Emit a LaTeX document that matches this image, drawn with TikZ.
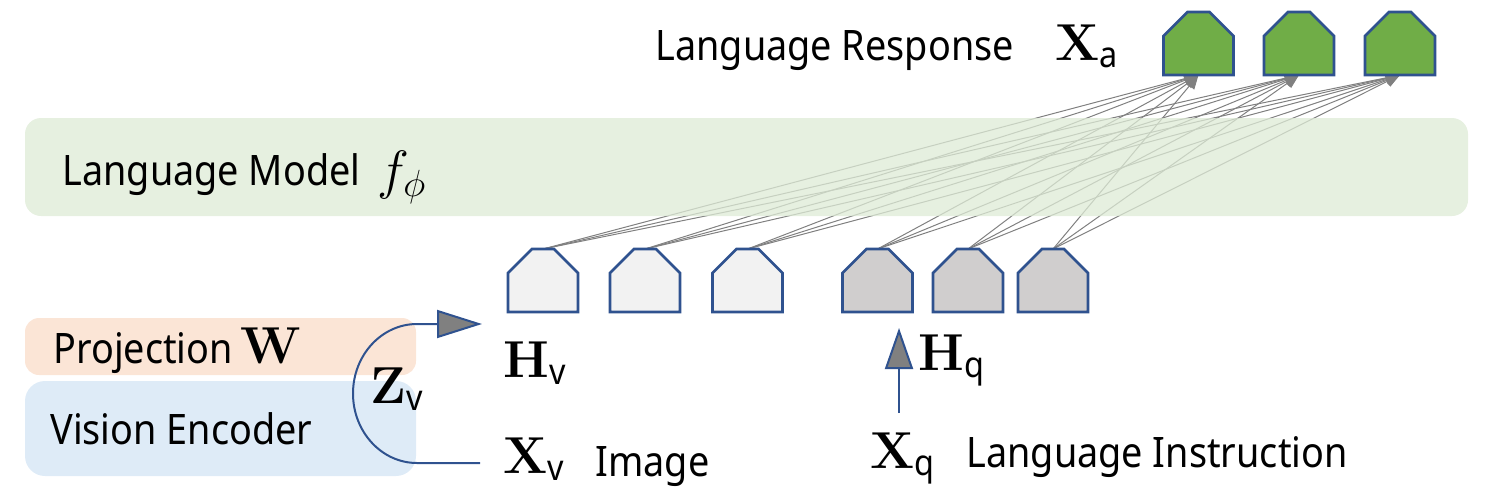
\RequirePackage{fix-cm}
\documentclass[tikz,border=0pt]{standalone}
\usepackage[no-math]{fontspec}
\setmainfont{Noto Sans}[FakeStretch=0.9]
\usetikzlibrary{arrows.meta}
\definecolor{bord}{RGB}{47,82,143}
\definecolor{tokw}{RGB}{242,242,242}
\definecolor{tokg}{RGB}{208,206,206}
\definecolor{tokgreen}{RGB}{112,173,71}
\definecolor{lmband}{RGB}{222,235,214}
\definecolor{projc}{RGB}{251,229,214}
\definecolor{visc}{RGB}{222,235,247}
\definecolor{fang}{RGB}{128,128,128}
\newcommand\sbs[1]{\mbox{\fontsize{18}{18}\selectfont #1}}
\newcommand\tokshape[3]{%
  \filldraw[tokstyle, fill=#3] (#1-35,#2+63) -- (#1-35,#2+24) -- (#1-11,#2) -- (#1+11,#2) -- (#1+35,#2+24) -- (#1+35,#2+63) -- cycle;}
\tikzset{
  tokstyle/.style={draw=bord, line width=1.3pt, line join=miter},
  fan/.style={draw=fang, line width=0.5pt, -{Triangle[length=7pt,width=6pt,fill=fang]}},
  txt/.style={inner sep=0pt, font=\fontsize{21}{25}\selectfont},
  mth/.style={inner sep=0pt, font=\fontsize{26}{30}\selectfont},
  bline/.style={draw=bord, line width=1pt},
}
\begin{document}
\begin{tikzpicture}[x=0.5pt,y=-0.5pt]
\useasboundingbox (0,0) rectangle (1502,498);
% coordinates for tokens
\coordinate (in1) at (543,249);
\coordinate (in2) at (645,249);
\coordinate (in3) at (747.5,249);
\coordinate (in4) at (877.5,249);
\coordinate (in5) at (968,249);
\coordinate (in6) at (1053,249);
\coordinate (out1) at (1198.5,75);
\coordinate (out2) at (1299,75);
\coordinate (out3) at (1400,75);
% fan connections
\foreach \i in {1,...,6}{
  \foreach \j in {1,2,3}{
    \draw[fan] (in\i) -- (out\j);
  }
}
% language model band
\fill[lmband, fill opacity=0.75, rounded corners=8pt] (25,118) rectangle (1468,216);
% projection and vision encoder
\fill[projc, rounded corners=7pt] (25,318) rectangle (416,375);
\fill[visc, rounded corners=10pt] (25,381) rectangle (416,476);
% tokens
\tokshape{543}{249}{tokw}
\tokshape{645}{249}{tokw}
\tokshape{747.5}{249}{tokw}
\tokshape{877.5}{249}{tokg}
\tokshape{968}{249}{tokg}
\tokshape{1053}{249}{tokg}
\tokshape{1198.5}{12}{tokgreen}
\tokshape{1299}{12}{tokgreen}
\tokshape{1400}{12}{tokgreen}
% texts
\node[txt, anchor=base west] (lr) at (655,60) {Language Response};
\node[mth, anchor=base west] (xa) at (1055,60) {$\mathbf{X}_{\sbs{a}}$};
\node[txt, anchor=base west] (lm) at (62,185) {Language Model};
\node[inner sep=0pt, anchor=base west, font=\fontsize{27}{32}\selectfont] (fphi) at (377,188) {$f_{\phi}$};
\node[txt, anchor=base west] (proj) at (53,363) {Projection};
\node[mth, anchor=base west] (w) at (240,363) {$\mathbf{W}$};
\node[txt, anchor=base west] (venc) at (50,444) {Vision Encoder};
\node[mth, anchor=base west] (zv) at (370,403) {$\mathbf{Z}_{\sbs{v}}$};
\node[mth, anchor=base west] (hv) at (503,377) {$\mathbf{H}_{\sbs{v}}$};
\node[mth, anchor=base west] (xv) at (503,473) {$\mathbf{X}_{\sbs{v}}$};
\node[txt, anchor=base west] (img) at (595,476) {Image};
\node[mth, anchor=base west] (hq) at (918,370) {$\mathbf{H}_{\sbs{q}}$};
\node[mth, anchor=base west] (xq) at (870,468) {$\mathbf{X}_{\sbs{q}}$};
\node[txt, anchor=base west] (linst) at (966,467) {Language Instruction};
% vision path
\coordinate (vstart) at (480,463);
\coordinate (vend) at (482,324);
\coordinate (qstart) at (899,413);
\coordinate (qend) at (899,328);
\draw[bline, -{Triangle[length=22.5pt,width=14pt,fill=fang]}] (vstart) -- (417,463) arc[start angle=270, end angle=90, x radius=32pt, y radius=34.75pt] -- (vend);
\draw[bline, -{Triangle[length=20.5pt,width=14pt,fill=fang]}] (qstart) -- (qend);
\end{tikzpicture}
\end{document}
